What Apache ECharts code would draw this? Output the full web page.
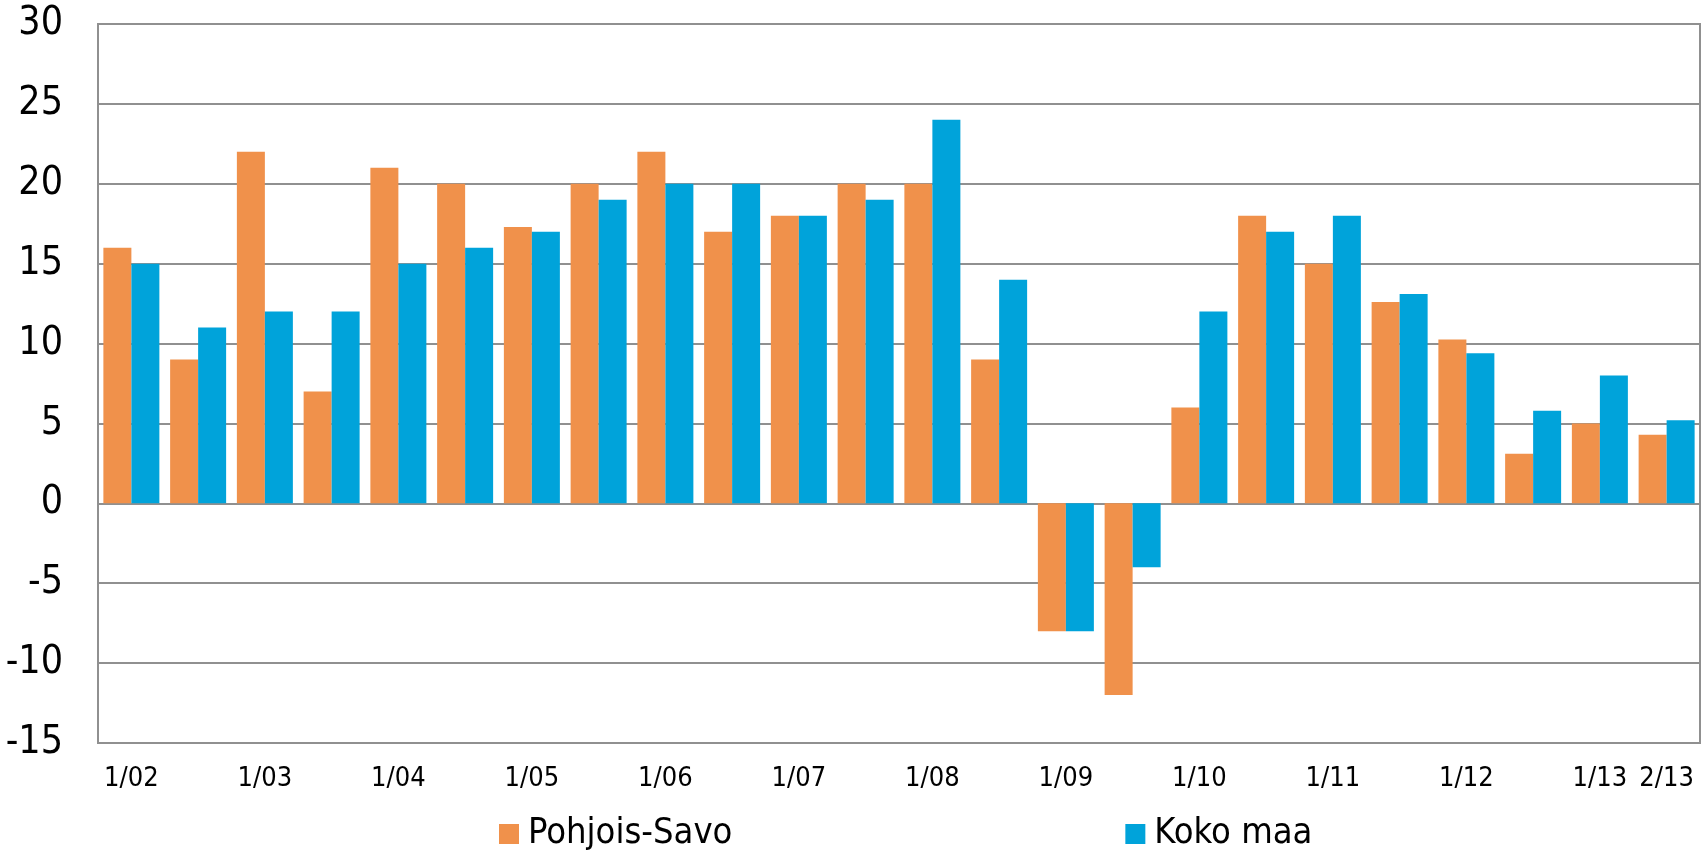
<!DOCTYPE html>
<html>
<head>
<meta charset="utf-8">
<script src="https://cdn.jsdelivr.net/npm/echarts@6/dist/echarts.min.js"></script>
<style>
html, body { margin: 0; padding: 0; background: #fff; }
#main { width: 1708px; height: 853px; }
</style>
</head>
<body>
<div id="main"></div>
<script>
// puolivuosittaiset jaksot 1/02 ... 2/13
var kaudet = ['1/02', '2/02', '1/03', '2/03', '1/04', '2/04', '1/05', '2/05',
	'1/06', '2/06', '1/07', '2/07', '1/08', '2/08', '1/09', '2/09',
	'1/10', '2/10', '1/11', '2/11', '1/12', '2/12', '1/13', '2/13'];

var pohjoisSavo = [16, 9, 22, 7, 21, 20, 17.3, 20, 22, 17, 18, 20, 20, 9, -8, -12,
	6, 18, 15, 12.6, 10.25, 3.1, 5, 4.3];

var kokoMaa = [15, 11, 12, 12, 15, 16, 17, 19, 20, 20, 18, 19, 24, 14, -8, -4,
	12, 17, 18, 13.1, 9.4, 5.8, 8, 5.2];

var sarjaNimet = ['Pohjois-Savo', 'Koko maa'];

var fontti = "'DejaVu Sans Condensed', 'Liberation Sans Narrow', 'DejaVu Sans', sans-serif";

var myChart = echarts.init(document.getElementById('main'));

var option = {
	animation: false,
	color: ['#F0914B', '#00A3DA'],
	textStyle: { fontFamily: fontti },
	grid: {
		left: 98,
		right: 8,
		top: 24,
		bottom: 110,
		show: true,
		borderColor: '#909090',
		borderWidth: 2
	},
	legend: {
		data: sarjaNimet,
		left: 494,
		top: 811,
		itemGap: 393,
		itemWidth: 20,
		itemHeight: 20,
		icon: 'rect',
		textStyle: {
			fontSize: 36,
			color: '#000',
			fontFamily: fontti,
			padding: [0, 0, 0, 4]
		}
	},
	xAxis: {
		type: 'category',
		data: kaudet,
		axisLine: { show: false, onZero: false },
		axisTick: { show: false },
		axisLabel: {
			interval: function (i) {
				return i % 2 === 0 || i === kaudet.length - 1;
			},
			fontSize: 27,
			color: '#000',
			margin: 22
		}
	},
	yAxis: {
		type: 'value',
		min: -15,
		max: 30,
		interval: 5,
		axisLine: { show: true, lineStyle: { color: '#909090', width: 2 } },
		axisTick: { show: false },
		splitLine: { lineStyle: { color: '#909090', width: 2 } },
		axisLabel: {
			fontSize: 39,
			color: '#000',
			margin: 35
		}
	},
	series: [{
		name: sarjaNimet[0],
		type: 'bar',
		data: pohjoisSavo,
		barWidth: 28,
		barGap: '0%'
	}, {
		name: sarjaNimet[1],
		type: 'bar',
		data: kokoMaa,
		barWidth: 28,
		barGap: '0%'
	}]
};

myChart.setOption(option);
</script>
</body>
</html>
